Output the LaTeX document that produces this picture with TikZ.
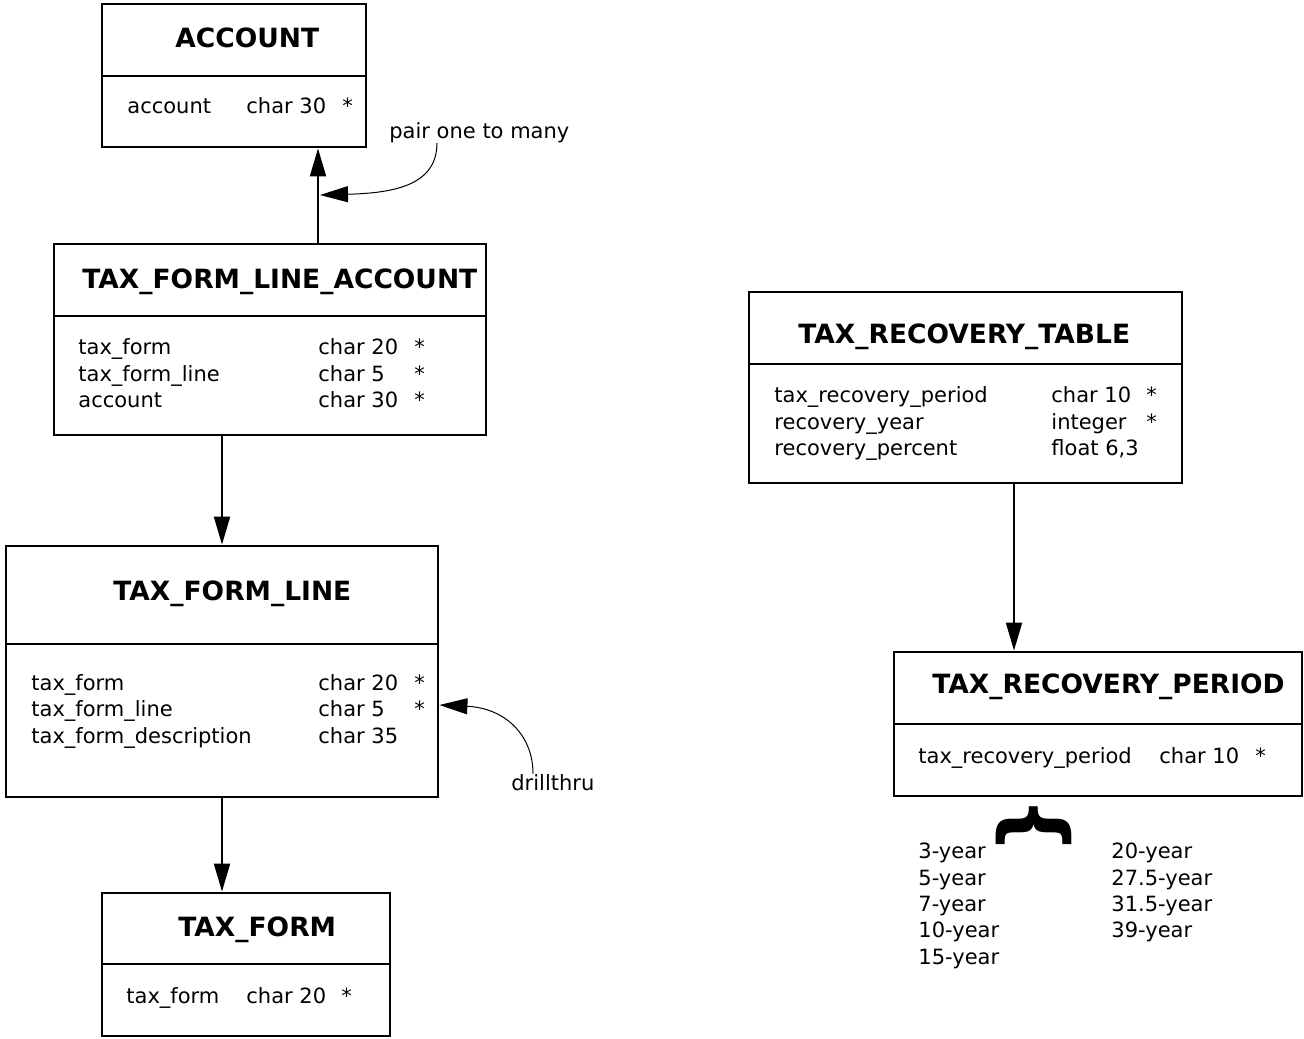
\documentclass[tikz,border=0pt]{standalone}
\usepackage{fontspec}
\setmainfont{DejaVu Sans}
\usetikzlibrary{arrows.meta,fit}
\tikzset{
  tbl/.style={draw, line width=1.4pt, inner sep=0pt},
  ttl/.style={anchor=base west, inner sep=0pt, font=\fontsize{13.25}{16}\selectfont\bfseries},
  fld/.style={anchor=base west, inner sep=0pt, font=\fontsize{10.5}{13}\selectfont},
  conn/.style={line width=1pt, -{Triangle[length=14pt,width=8pt]}},
  note/.style={line width=0.5pt, -{Triangle[length=14pt,width=8pt]}},
}
\begin{document}
\begin{tikzpicture}[x=0.5pt,y=-0.5pt]
\useasboundingbox (0,0) rectangle (1304,1038);
% ACCOUNT
\node[tbl, fit={(102,4) (366,147)}] (acc) {};
\draw[line width=1.4pt] (acc.west |- 0,76) -- (acc.east |- 0,76);
\node[ttl] (acct) at (175,48) {ACCOUNT};
\node[fld] (acc1) at (127,113) {account};
\node[fld] (acc1t) at (246,113) {char 30};
\node[fld] (acc1k) at (342,113) {*};
% TAX_FORM_LINE_ACCOUNT
\node[tbl, fit={(54,244) (486,435)}] (tfla) {};
\draw[line width=1.4pt] (tfla.west |- 0,316) -- (tfla.east |- 0,316);
\node[ttl] (tflat) at (82,288) {TAX\_FORM\_LINE\_ACCOUNT};
\node[fld] (tfla1) at (78,354) {tax\_form};
\node[fld] (tfla2) at (78,381) {tax\_form\_line};
\node[fld] (tfla3) at (78,407) {account};
\node[fld] (tfla1t) at (318,354) {char 20};
\node[fld] (tfla2t) at (318,381) {char 5};
\node[fld] (tfla3t) at (318,407) {char 30};
\node[fld] (tfla1k) at (414,354) {*};
\node[fld] (tfla2k) at (414,381) {*};
\node[fld] (tfla3k) at (414,407) {*};
% TAX_FORM_LINE
\node[tbl, fit={(6,546) (438,797)}] (tfl) {};
\draw[line width=1.4pt] (tfl.west |- 0,644) -- (tfl.east |- 0,644);
\node[ttl] (tflt) at (113,600) {TAX\_FORM\_LINE};
\node[fld] (tfl1) at (31,690) {tax\_form};
\node[fld] (tfl2) at (31,716) {tax\_form\_line};
\node[fld] (tfl3) at (31,743) {tax\_form\_description};
\node[fld] (tfl1t) at (318,690) {char 20};
\node[fld] (tfl2t) at (318,716) {char 5};
\node[fld] (tfl3t) at (318,743) {char 35};
\node[fld] (tfl1k) at (414,690) {*};
\node[fld] (tfl2k) at (414,716) {*};
% TAX_FORM
\node[tbl, fit={(102,893) (390,1036)}] (tf) {};
\draw[line width=1.4pt] (tf.west |- 0,964) -- (tf.east |- 0,964);
\node[ttl] (tft) at (178,936) {TAX\_FORM};
\node[fld] (tf1) at (126,1003) {tax\_form};
\node[fld] (tf1t) at (246,1003) {char 20};
\node[fld] (tf1k) at (341,1003) {*};
% TAX_RECOVERY_TABLE
\node[tbl, fit={(749,292) (1182,483)}] (trt) {};
\draw[line width=1.4pt] (trt.west |- 0,364) -- (trt.east |- 0,364);
\node[ttl] (trtt) at (798,343) {TAX\_RECOVERY\_TABLE};
\node[fld] (trt1) at (774,402) {tax\_recovery\_period};
\node[fld] (trt2) at (774,429) {recovery\_year};
\node[fld] (trt3) at (774,455) {recovery\_percent};
\node[fld] (trt1t) at (1051,402) {char 10};
\node[fld] (trt2t) at (1051,429) {integer};
\node[fld] (trt3t) at (1051,455) {float 6,3};
\node[fld] (trt1k) at (1146,402) {*};
\node[fld] (trt2k) at (1146,429) {*};
% TAX_RECOVERY_PERIOD
\node[tbl, fit={(894,652) (1302,796)}] (trp) {};
\draw[line width=1.4pt] (trp.west |- 0,724) -- (trp.east |- 0,724);
\node[ttl] (trpt) at (932,693) {TAX\_RECOVERY\_PERIOD};
\node[fld] (trp1) at (918,763) {tax\_recovery\_period};
\node[fld] (trp1t) at (1159,763) {char 10};
\node[fld] (trp1k) at (1255,763) {*};
% periods
\node[rotate=-90, inner sep=0pt, font=\fontsize{41}{41}\selectfont\bfseries] (brace) at (1034,826) {\{};
\node[fld] (p3) at (918,858) {3-year};
\node[fld] (p5) at (918,885) {5-year};
\node[fld] (p7) at (918,911) {7-year};
\node[fld] (p10) at (918,937) {10-year};
\node[fld] (p15) at (918,964) {15-year};
\node[fld] (p20) at (1111,858) {20-year};
\node[fld] (p275) at (1111,885) {27.5-year};
\node[fld] (p315) at (1111,911) {31.5-year};
\node[fld] (p39) at (1111,937) {39-year};
% links
\draw[conn] (tfla.north -| 318,0) -- (acc.south -| 318,0);
\draw[conn] (tfla.south -| 222,0) -- (tfl.north -| 222,0);
\draw[conn] (tfl.south -| 222,0) -- (tf.north -| 222,0);
\draw[conn] (trt.south -| 1014,0) -- (trp.north -| 1014,0);
% notes
\node[fld] (pair) at (389,138) {pair one to many};
\coordinate (pairtip) at (320,195);
\draw[note] (pair.south -| 437,0) .. controls (437,185) and (395,193) .. (pairtip);
\node[fld] (drill) at (511,790) {drillthru};
\draw[note] (drill.north -| 533,0) .. controls (533,735) and (505,708) .. (tfl.east |- 0,705);
\end{tikzpicture}
\end{document}
